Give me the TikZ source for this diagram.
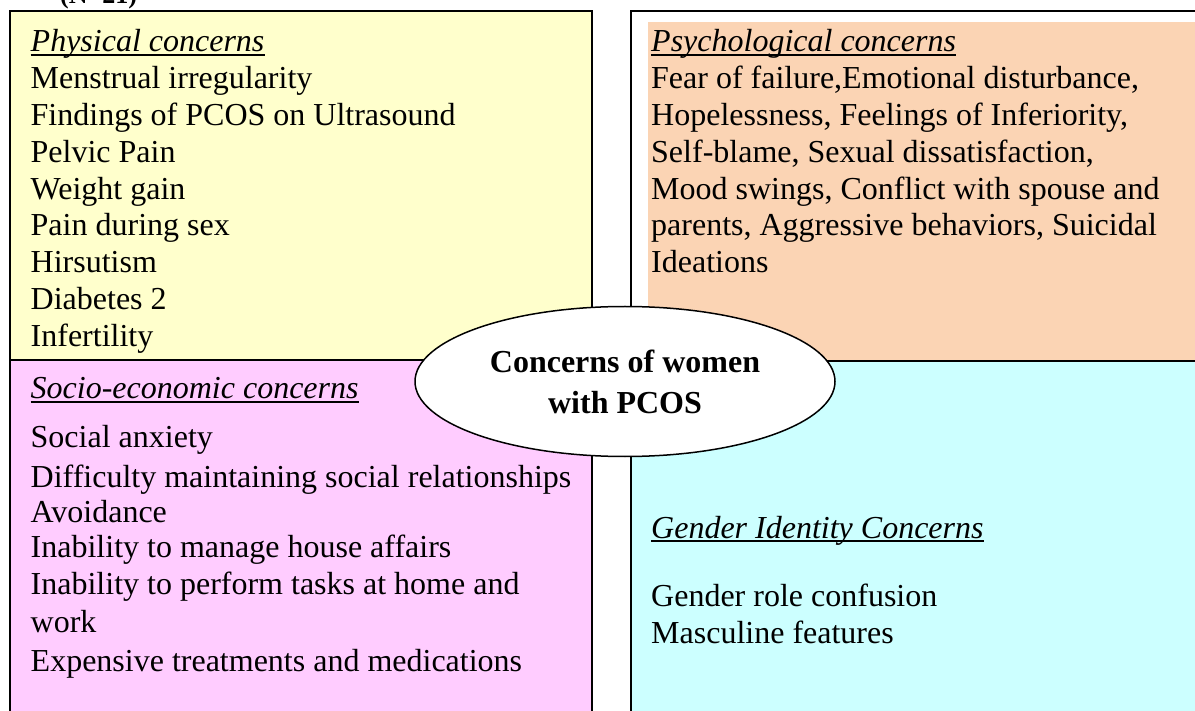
\documentclass[tikz,border=0pt]{standalone}
\usepackage{fontspec}
\setmainfont{Liberation Serif}
\usetikzlibrary{positioning,shapes.geometric}

\definecolor{physfill}{HTML}{FFFFCC}
\definecolor{psyfill}{HTML}{FBD4B4}
\definecolor{socfill}{HTML}{FFCCFF}
\definecolor{gendfill}{HTML}{CCFFFF}

\tikzset{
  quad/.style={draw=black,line width=2pt},
  item/.style={anchor=base west,inner sep=0pt,font=\fontsize{32}{36.8}\selectfont},
  head/.style={item,font=\fontsize{32}{36.8}\selectfont\itshape},
  uline/.style={line width=1.5pt},
}

\begin{document}
\begin{tikzpicture}[x=1pt,y=-1pt]
  \useasboundingbox (0,0) rectangle (1195,711);
  \node[item,font=\fontsize{26}{30}\selectfont\bfseries] (count) at (60,4) {(N=21)};

  \draw[quad,fill=physfill] (9.5,11) rectangle (592,360);
  \draw[quad,fill=socfill] (9.5,360) rectangle (592,740);
  \draw[quad,fill=white] (631,11) rectangle (1220,361);
  \fill[psyfill] (648,22) rectangle (1220,360);
  \draw[quad,fill=gendfill] (631,361) rectangle (1220,740);

  \node[head] (physhead) at (30.5,52) {Physical concerns};
  \draw[uline] ([yshift=-3pt]physhead.base west) -- ([yshift=-3pt]physhead.base east);
  \foreach \t [count=\i] in {Menstrual irregularity, Findings of PCOS on Ultrasound, Pelvic Pain,
      Weight gain, Pain during sex, Hirsutism, Diabetes 2, Infertility}
    \node[item] (phys-\i) at (30.5,{52+36.8*\i}) {\t};

  \node[head] (psyhead) at (651,52) {Psychological concerns};
  \draw[uline] ([yshift=-3pt]psyhead.base west) -- ([yshift=-3pt]psyhead.base east);
  \foreach \t [count=\i] in {{Fear of failure,Emotional disturbance,},
      {Hopelessness, Feelings of Inferiority,}, {Self-blame, Sexual dissatisfaction,},
      {Mood swings, Conflict with spouse and}, {parents, Aggressive behaviors, Suicidal},
      {Ideations}}
    \node[item] (psy-\i) at (651,{52+36.8*\i}) {\t};

  \node[head] (sochead) at (30.5,399) {Socio-economic concerns};
  \draw[uline] ([yshift=-3pt]sochead.base west) -- ([yshift=-3pt]sochead.base east);
  \foreach \y/\t [count=\i] in {447/Social anxiety, 487/Difficulty maintaining social relationships,
      522/Avoidance, 557/Inability to manage house affairs,
      594/Inability to perform tasks at home and, 632/work,
      671/Expensive treatments and medications}
    \node[item] (soc-\i) at (30.5,\y) {\t};

  \node[head] (gendhead) at (651,538) {Gender Identity Concerns};
  \draw[uline] ([yshift=-3pt]gendhead.base west) -- ([yshift=-3pt]gendhead.base east);
  \node[item] (gend-1) at (651,606) {Gender role confusion};
  \node[item] (gend-2) at (651,643) {Masculine features};

  \node[ellipse,draw=black,fill=white,line width=1.5pt,inner sep=0pt,
        minimum width=420pt,minimum height=150pt,align=center,
        font=\fontsize{32}{41}\selectfont\bfseries] (hub) at (625,381.5)
        {Concerns of women\\with PCOS};
\end{tikzpicture}
\end{document}
